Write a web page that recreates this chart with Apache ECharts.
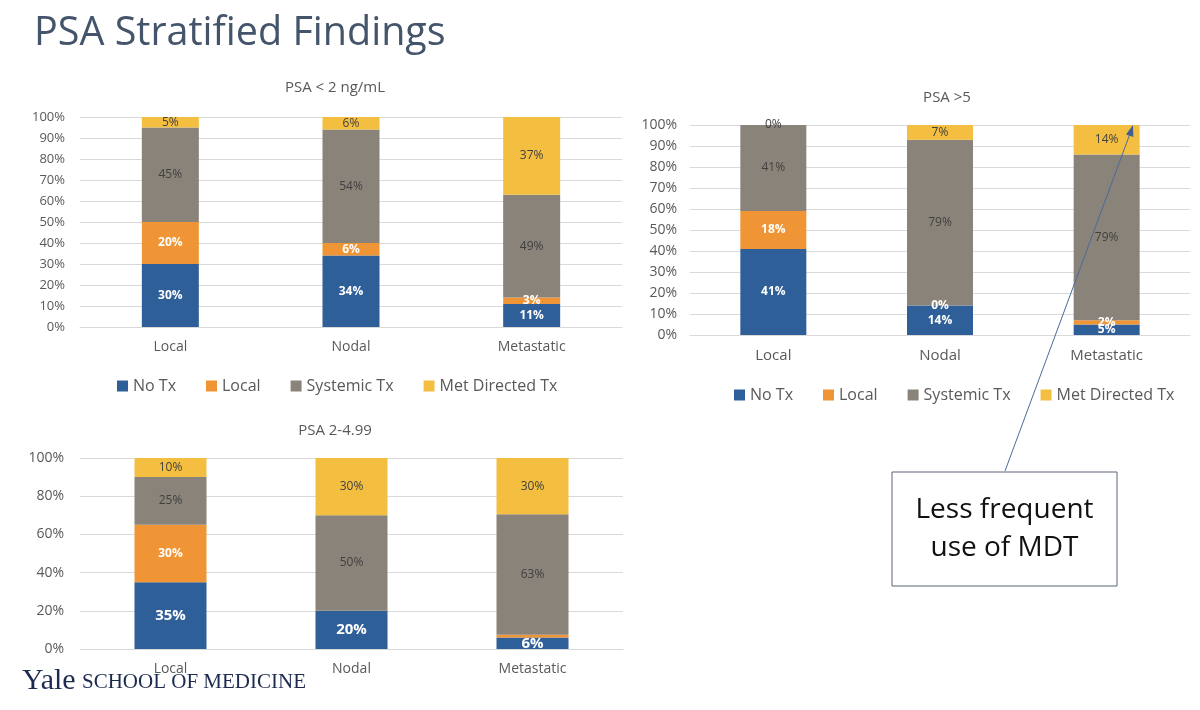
<!DOCTYPE html>
<html>
<head>
<meta charset="utf-8">
<script src="https://cdn.jsdelivr.net/npm/echarts@6/dist/echarts.min.js"></script>
<style>
  html, body { margin: 0; padding: 0; background: #fff; }
  #main { width: 1200px; height: 710px; }
</style>
</head>
<body>
<div id="main"></div>
<script>
var categories = ['Local', 'Nodal', 'Metastatic'];
var seriesNames = ['No Tx', 'Local', 'Systemic Tx', 'Met Directed Tx'];
var colors = ['#2F5F98', '#EF9535', '#8A837A', '#F4BF40'];

// PSA < 2 ng/mL
var lowNoTx = [30, 34, 11];
var lowLocal = [20, 6, 3];
var lowSystemic = [45, 54, 49];
var lowMet = [5, 6, 37];

// PSA >5
var highNoTx = [41, 14, 5];
var highLocal = [18, 0, 2];
var highSystemic = [41, 79, 79];
var highMet = [0, 7, 14];

// PSA 2-4.99
var midNoTx = [35, 20, 6];
var midLocal = [30, 0, 1.5];
var midSystemic = [25, 50, 63];
var midMet = [10, 30, 30];

var font = 'Open Sans';
var myChart = echarts.init(document.getElementById('main'));

function makeSeries(gridIdx, idx, values, barWidth, opts) {
    var light = idx < 2;
    return {
        name: seriesNames[idx],
        type: 'bar',
        stack: 'g' + gridIdx,
        xAxisIndex: gridIdx,
        yAxisIndex: gridIdx,
        barWidth: barWidth,
        data: values,
        itemStyle: { color: colors[idx] },
        label: {
            show: true,
            position: 'inside',
            fontFamily: font,
            fontSize: opts.big && idx === 0 ? 15 : 12,
            fontWeight: light ? 'bold' : 'normal',
            color: light ? '#ffffff' : '#404040',
            formatter: function (p) {
                if (opts.hideSmall && p.value < 2) return '';
                return p.value + '%';
            }
        }
    };
}

function xAx(gridIdx, size) {
    return {
        type: 'category',
        gridIndex: gridIdx,
        data: categories,
        axisLine: { lineStyle: { color: '#d9d9d9' } },
        axisTick: { show: false },
        axisLabel: { color: '#595959', fontFamily: font, fontSize: size, margin: 13 }
    };
}

function yAx(gridIdx, interval, size, margin) {
    return {
        type: 'value',
        gridIndex: gridIdx,
        min: 0,
        max: 100,
        interval: interval,
        axisLine: { show: false },
        axisTick: { show: false },
        splitLine: { lineStyle: { color: '#d9d9d9' } },
        axisLabel: { color: '#595959', fontFamily: font, fontSize: size, margin: margin, formatter: '{value}%' }
    };
}

var series = [];
var lowSets = [lowNoTx, lowLocal, lowSystemic, lowMet];
var highSets = [highNoTx, highLocal, highSystemic, highMet];
var midSets = [midNoTx, midLocal, midSystemic, midMet];
for (var i = 0; i < 4; i++) {
    series.push(makeSeries(0, i, lowSets[i], 57, {}));
    series.push(makeSeries(1, i, highSets[i], 66, {}));
    series.push(makeSeries(2, i, midSets[i], 72, { big: true, hideSmall: true }));
}

var legendBase = {
    data: seriesNames,
    icon: 'rect',
    itemWidth: 11,
    itemHeight: 11,
    itemGap: 30,
    textStyle: { color: '#595959', fontFamily: font, fontSize: 16 }
};

var option = {
    animation: false,
    color: colors,
    title: [
        { text: 'PSA Stratified Findings', left: 29, top: 9,
          textStyle: { color: '#44546A', fontFamily: font, fontSize: 39.5, fontWeight: 'normal' } },
        { text: 'PSA < 2 ng/mL', left: 330, top: 75, textAlign: 'center',
          textStyle: { color: '#595959', fontFamily: font, fontSize: 15, fontWeight: 'normal' } },
        { text: 'PSA >5', left: 942, top: 85, textAlign: 'center',
          textStyle: { color: '#595959', fontFamily: font, fontSize: 15, fontWeight: 'normal' } },
        { text: 'PSA 2-4.99', left: 330, top: 418, textAlign: 'center',
          textStyle: { color: '#595959', fontFamily: font, fontSize: 15, fontWeight: 'normal' } }
    ],
    legend: [
        Object.assign({ left: 112, top: 373 }, legendBase),
        Object.assign({ left: 729, top: 382 }, legendBase)
    ],
    grid: [
        { left: 80, top: 117, width: 542, height: 210 },
        { left: 690, top: 125, width: 500, height: 210 },
        { left: 80, top: 458, width: 543, height: 191 }
    ],
    xAxis: [xAx(0, 14), xAx(1, 15), xAx(2, 14)],
    yAxis: [yAx(0, 10, 13, 15), yAx(1, 10, 14, 13), yAx(2, 20, 14, 16)],
    series: series,
    graphic: [
        { type: 'line', z: 100, shape: { x1: 1005, y1: 471, x2: 1131, y2: 131 },
          style: { stroke: '#4a6a9a', lineWidth: 1 } },
        { type: 'polygon', z: 100, shape: { points: [[1133, 125], [1133.3, 137], [1126, 134.5]] },
          style: { fill: '#3f5f92' } },
        { type: 'rect', z: 100, shape: { x: 892, y: 472, width: 225, height: 114 },
          style: { fill: '#ffffff', stroke: '#5a6577', lineWidth: 1 } },
        { type: 'text', z: 101, x: 1004.5, y: 529,
          style: { text: 'Less frequent\nuse of MDT', font: '28px "Open Sans"', fill: '#111111',
                   align: 'center', verticalAlign: 'middle', lineHeight: 38 } },
        { type: 'text', z: 101, x: 22, y: 696,
          style: { text: 'Yale', font: '30px "Liberation Serif"', fill: '#1b2a4e', verticalAlign: 'bottom' } },
        { type: 'text', z: 101, x: 82, y: 693,
          style: { text: 'SCHOOL OF MEDICINE', font: '21px "Liberation Serif"', fill: '#1b2a4e', verticalAlign: 'bottom' } }
    ]
};
myChart.setOption(option);
</script>
</body>
</html>
